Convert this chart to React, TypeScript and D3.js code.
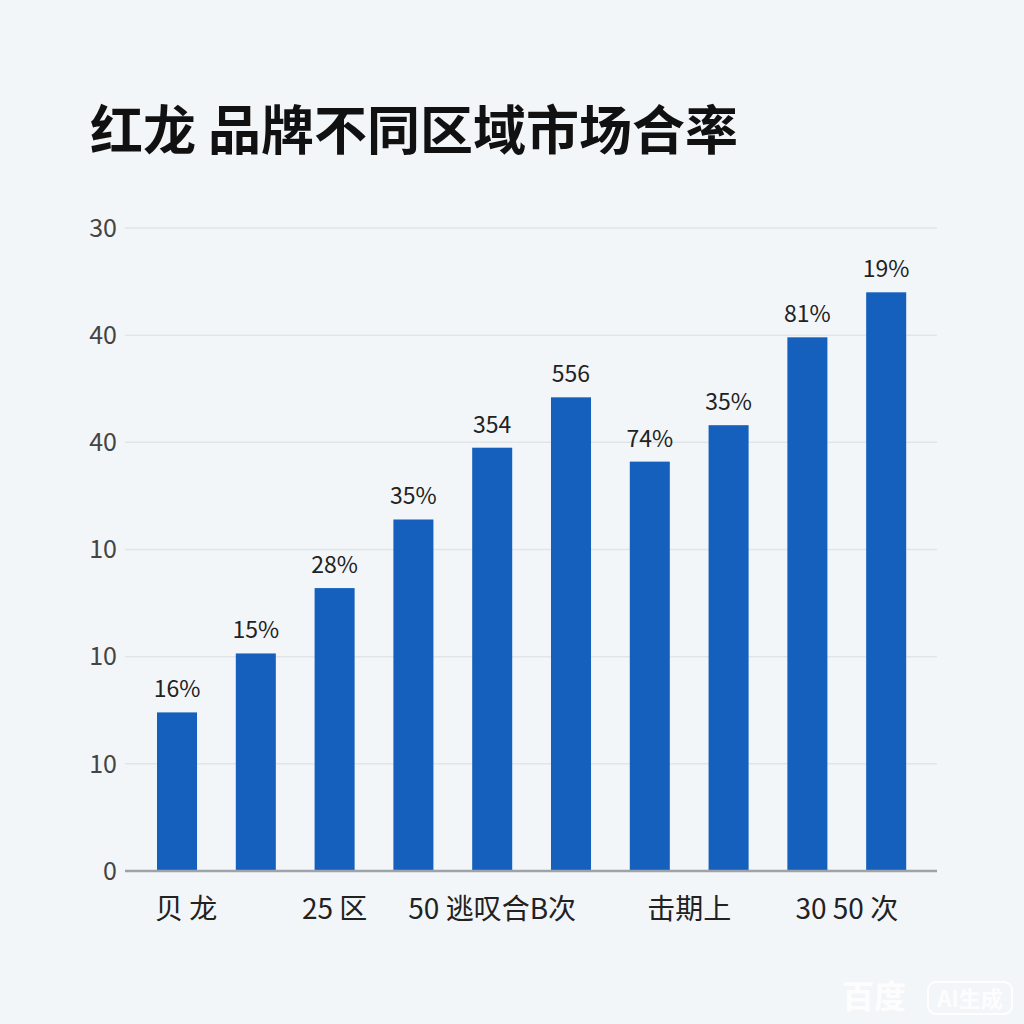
import * as d3 from 'd3';
import React from 'react';

// bars (the picture has no per-bar category names, only group labels below)
const barIds = ['b1', 'b2', 'b3', 'b4', 'b5', 'b6', 'b7', 'b8', 'b9', 'b10'];
const barValues = [1.48, 2.03, 2.64, 3.28, 3.95, 4.42, 3.82, 4.16, 4.98, 5.4];
const barLabels = ['16%', '15%', '28%', '35%', '354', '556', '74%', '35%', '81%', '19%'];

// y grid steps and the (odd) labels printed next to them, bottom to top
const yTicks = [0, 1, 2, 3, 4, 5, 6];
const yTickLabels = ['0', '10', '10', '10', '40', '40', '30'];

// group labels under the axis and the bars they sit under
const groupLabels = ['贝  龙', '25 区', '50 逃叹合B次', '击期上', '30 50 次'];
const groupFrom = ['b1', 'b3', 'b5', 'b7', 'b9'];
const groupTo = ['b1', 'b3', 'b5', 'b8', 'b10'];

const title = '红龙 品牌不同区域市场合率';

const font = '"Noto Sans CJK SC", "Noto Sans", sans-serif';

const App: React.FC = () => {
  const width = 1024;
  const height = 1024;
  const plot = { left: 125, right: 937, top: 228, bottom: 871 };

  const x = d3.scaleBand()
    .domain(barIds)
    .range([137.3, 925.9])
    .paddingInner(0.492)
    .paddingOuter(0.25);

  const y = d3.scaleLinear()
    .domain([0, 6])
    .range([plot.bottom, plot.top]);

  const center = (id: string) => (x(id) ?? 0) + x.bandwidth() / 2;

  return (
    <svg width={width} height={height} style={{ position: 'absolute', top: 0, left: 0 }} fontFamily={font}>
      <rect width={width} height={height} fill="#f3f6f9" />
      <text x={90} y={150} fontSize={53} fontWeight={700} fill="#111">{title}</text>

      {yTicks.map((t, i) => (
        <g key={t}>
          {t > 0 && (
            <line x1={plot.left} x2={plot.right} y1={y(t)} y2={y(t)} stroke="#e1e5ea" strokeWidth={1.5} />
          )}
          <text x={117} y={y(t)} dy="0.35em" textAnchor="end" fontSize={25} fill="#444">{yTickLabels[i]}</text>
        </g>
      ))}

      {barIds.map((id, i) => (
        <g key={id}>
          <rect x={x(id)} y={y(barValues[i])} width={x.bandwidth()} height={y(0) - y(barValues[i])} fill="#1560bd" />
          <text x={center(id)} y={y(barValues[i]) - 15} textAnchor="middle" fontSize={23} fill="#222">{barLabels[i]}</text>
        </g>
      ))}

      <line x1={plot.left} x2={plot.right} y1={y(0)} y2={y(0)} stroke="#9ea3a9" strokeWidth={2.5} />

      {groupLabels.map((g, i) => (
        <text
          key={g}
          x={i === 0 ? (x(groupFrom[i]) ?? 0) - 2 : (center(groupFrom[i]) + center(groupTo[i])) / 2}
          y={919}
          textAnchor={i === 0 ? 'start' : 'middle'}
          fontSize={28}
          fill="#222"
        >
          {g}
        </text>
      ))}

      <g fill="#ffffff" fillOpacity={0.9}>
        <text x={842} y={1008} fontSize={32} fontWeight={700}>百度</text>
        <rect x={928} y={982} width={84} height={32} rx={8} fill="none" stroke="#ffffff" strokeOpacity={0.9} strokeWidth={2} />
        <text x={970} y={1007} textAnchor="middle" fontSize={22} fontWeight={700}>AI生成</text>
      </g>
    </svg>
  );
};

export default App;
